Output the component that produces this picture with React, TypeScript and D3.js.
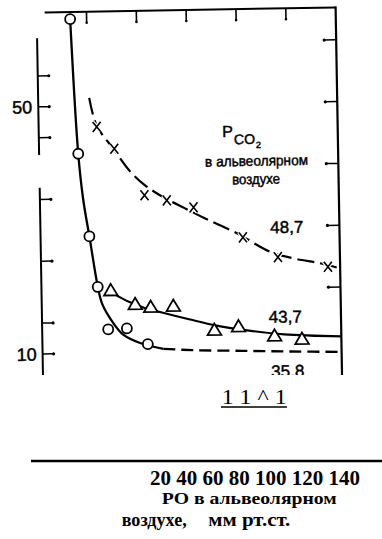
import React from 'react';
import * as d3 from 'd3';

const W = 382;
const H = 539;

// Axis ticks (x: PO2 in alveolar air, mm Hg; y: ventilation)
const X_TICKS_TOP = [40, 60, 80, 100, 120];
const Y_TICKS_LEFT = [10, 15, 25, 35, 45, 50, 55];
const Y_LABELS_LEFT = [10, 50];
const Y_TICKS_RIGHT = [20, 30, 40, 50, 60];
const LEFT_AXIS_SEGMENTS: [number, number][] = [[61.1, 42.2], [36.9, 4]];

// Measured points
const circlePO2 = [33.4, 35.7, 39.6, 42.6, 46.5, 54.0, 62.3];
const circleV = [64.1, 42.3, 28.9, 20.7, 13.8, 13.9, 11.3];
const trianglePO2 = [47.8, 57.5, 63.7, 72.8, 89.1, 98.8, 113.2, 124.2];
const triangleV = [20.1, 17.8, 17.3, 17.4, 13.4, 13.9, 12.3, 11.7];
const crossPO2 = [43.3, 50.2, 62.0, 70.9, 81.6, 101.2, 115.1, 135.1];
const crossV = [46.6, 43.0, 35.4, 34.5, 33.3, 28.3, 25.0, 23.3];

// Fitted curves (PCO2 = 35.8, 43.7, 48.7)
const curve358SolidX = [33.4, 35.7, 37.4, 39.6, 42.6, 44.3, 48.6, 52.5, 59.2, 68.5];
const curve358SolidY = [64.1, 42.3, 34.8, 28.9, 20.8, 17.9, 14.8, 12.9, 11.5, 10.5];
const curve358DashX = [68.5, 80, 100, 120, 140];
const curve358DashY = [10.5, 10.2, 9.95, 9.7, 9.5];
const curve437X = [49.5, 55, 61, 67, 79, 90, 103, 117, 140];
const curve437Y = [19.4, 18.2, 17.2, 16.5, 15.2, 14.1, 13.2, 12.5, 12.0];
const curve487X = [40.5, 43.3, 50.2, 56.4, 62.3, 69.6, 78, 86, 98.8, 112, 122, 132, 140];
const curve487Y = [51.3, 46.8, 42.8, 39.3, 37.0, 35.0, 33.2, 31.5, 29.0, 25.9, 24.7, 23.9, 23.0];

const CURVE_LABELS = [
  { text: '48,7', x: 112.2, y: 28.9 },
  { text: '43,7', x: 111.0, y: 14.4 },
  { text: '35,8', x: 111.6, y: 5.6 },
];

const SANS = "'Liberation Sans', Arial, sans-serif";
const SERIF = "'Liberation Serif', 'Times New Roman', serif";

const zip = (a: number[], b: number[]) => a.map((v, i) => [v, b[i]] as [number, number]);

export default function App() {
  const x = d3.scaleLinear().domain([20, 140]).range([42.6, 341.6]);
  const y = d3.scaleLinear().domain([10, 60]).range([354, 45]);
  const line = d3
    .line<[number, number]>()
    .x((d) => x(d[0]))
    .y((d) => y(d[1]))
    .curve(d3.curveCatmullRom.alpha(0.5));

  const xL = x(20);
  const xR = x(140);
  const yTop = y(65.25);
  const inkText = { fill: '#000', stroke: '#000', strokeWidth: 0.45 };

  return (
    <svg
      width={W}
      height={H}
      style={{ position: 'absolute', left: 0, top: 0, display: 'block', background: '#fff' }}
    >
      <defs>
        <clipPath id="plotclip">
          <rect x={0} y={0} width={W} height={375} />
        </clipPath>
      </defs>
      <rect x={0} y={0} width={W} height={H} fill="#fff" />
      <g clipPath="url(#plotclip)">
        <g transform={`rotate(-1 ${xL} ${y(10)})`}>
          {/* top frame */}
          <line x1={x(23.2)} x2={xR} y1={yTop} y2={yTop} stroke="#000" strokeWidth={2} />
          {X_TICKS_TOP.map((t) => (
            <g key={'tt' + t}>
              <line x1={x(t)} x2={x(t)} y1={yTop} y2={yTop + 11} stroke="#000" strokeWidth={1.6} />
              <circle cx={x(t)} cy={yTop + 11} r={1.3} fill="#000" />
            </g>
          ))}
          {/* left axis */}
          {LEFT_AXIS_SEGMENTS.map((s, i) => (
            <line key={'la' + i} x1={xL} x2={xL} y1={y(s[0])} y2={y(s[1])} stroke="#000" strokeWidth={2} />
          ))}
          {Y_TICKS_LEFT.map((t) => (
            <g key={'lt' + t}>
              <line x1={xL} x2={xL + 11} y1={y(t)} y2={y(t)} stroke="#000" strokeWidth={1.5} />
              <circle cx={xL + 11} cy={y(t)} r={1.6} fill="#000" />
            </g>
          ))}
          {Y_LABELS_LEFT.map((t) => (
            <text
              key={'ll' + t}
              x={xL - 6}
              y={y(t)}
              dy="0.36em"
              textAnchor="end"
              fontFamily={SANS}
              fontSize={18}
              {...inkText}
            >
              {t}
            </text>
          ))}
          {/* right axis */}
          <line x1={xR} x2={xR} y1={yTop - 1} y2={y(4)} stroke="#000" strokeWidth={2.2} />
          {Y_TICKS_RIGHT.map((t) => (
            <g key={'rt' + t}>
              <line x1={xR} x2={xR - 12} y1={y(t)} y2={y(t)} stroke="#000" strokeWidth={1.5} />
              <circle cx={xR - 12} cy={y(t)} r={1.6} fill="#000" />
            </g>
          ))}

          {/* curves */}
          <path d={line(zip(curve358SolidX, curve358SolidY)) || ''} fill="none" stroke="#000" strokeWidth={2.3} />
          <path
            d={line(zip(curve358DashX, curve358DashY)) || ''}
            fill="none"
            stroke="#000"
            strokeWidth={2.3}
            strokeDasharray="12 6"
          />
          <path d={line(zip(curve437X, curve437Y)) || ''} fill="none" stroke="#000" strokeWidth={2.2} />
          <path
            d={line(zip(curve487X, curve487Y)) || ''}
            fill="none"
            stroke="#000"
            strokeWidth={2.2}
            strokeDasharray="17 6"
          />

          {/* markers */}
          {crossPO2.map((v, i) => {
            const cx = x(v);
            const cy = y(crossV[i]);
            const d = `M${cx - 4},${cy - 5}L${cx + 4},${cy + 5}M${cx - 4},${cy + 5}L${cx + 4},${cy - 5}`;
            return (
              <g key={'x' + i}>
                <path d={d} stroke="#fff" strokeWidth={4} />
                <path d={d} stroke="#000" strokeWidth={1.6} />
              </g>
            );
          })}
          {trianglePO2.map((v, i) => {
            const cx = x(v);
            const cy = y(triangleV[i]);
            return (
              <path
                key={'t' + i}
                d={`M${cx},${cy - 6.5}L${cx + 6.8},${cy + 5}L${cx - 6.8},${cy + 5}Z`}
                fill="#fff"
                stroke="#000"
                strokeWidth={1.8}
              />
            );
          })}
          {circlePO2.map((v, i) => (
            <circle key={'c' + i} cx={x(v)} cy={y(circleV[i])} r={5} fill="#fff" stroke="#000" strokeWidth={1.8} />
          ))}

          {/* labels */}
          {CURVE_LABELS.map((l) => (
            <text key={l.text} x={x(l.x)} y={y(l.y)} fontFamily={SANS} fontSize={17} {...inkText}>
              {l.text}
            </text>
          ))}
          <text x={x(93.6)} y={y(44.6)} fontFamily={SANS} fontSize={16} {...inkText}>
            P
            <tspan dx={1} dy={7.5} fontSize={14}>
              CO
            </tspan>
            <tspan dx={1} dy={4} fontSize={9}>
              2
            </tspan>
          </text>
          <text
            x={x(107.2)}
            y={y(39.85)}
            textAnchor="middle"
            fontFamily={SANS}
            fontSize={14.5}
            textLength={103}
            lengthAdjust="spacingAndGlyphs"
            {...inkText}
          >
            в альвеолярном
          </text>
          <text
            x={x(106.9)}
            y={y(36.9)}
            textAnchor="middle"
            fontFamily={SANS}
            fontSize={14.5}
            textLength={48}
            lengthAdjust="spacingAndGlyphs"
            {...inkText}
          >
            воздухе
          </text>
        </g>
      </g>

      {/* text below the figure */}
      <text x={221.7} y={404} fontFamily={SERIF} fontSize={22} textLength={65} lengthAdjust="spacingAndGlyphs" fill="#000">
        1 1 ^ 1
      </text>
      <line x1={221} x2={287} y1={407} y2={407} stroke="#000" strokeWidth={1.5} />
      <line x1={31} x2={W} y1={461} y2={461} stroke="#000" strokeWidth={2.5} />
      <text
        x={150}
        y={484.5}
        fontFamily={SERIF}
        fontWeight="bold"
        fontSize={20}
        textLength={210}
        lengthAdjust="spacingAndGlyphs"
        fill="#000"
      >
        20 40 60 80 100 120 140
      </text>
      <text
        x={161.7}
        y={504}
        fontFamily={SERIF}
        fontWeight="bold"
        fontSize={17}
        textLength={175}
        lengthAdjust="spacingAndGlyphs"
        fill="#000"
      >
        PO в альвеолярном
      </text>
      <text y={526} fontFamily={SERIF} fontWeight="bold" fontSize={18} fill="#000">
        <tspan x={121.7} textLength={65} lengthAdjust="spacingAndGlyphs">
          воздухе,
        </tspan>
        <tspan x={208.3} textLength={82} lengthAdjust="spacingAndGlyphs">
          мм рт.ст.
        </tspan>
      </text>
    </svg>
  );
}
